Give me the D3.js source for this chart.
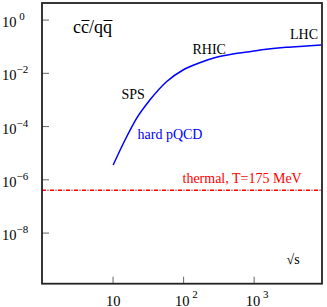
<!DOCTYPE html>
<html>
<head>
<meta charset="utf-8">
<script src="https://cdn.jsdelivr.net/npm/d3@7"></script>
<style>
  body { margin: 0; background: #fff; }
</style>
</head>
<body>
<svg id="chart"></svg>
<script>
// hard pQCD ratio vs sqrt(s) [GeV]
var sqrtS = [10.2, 14.9, 21.9, 33.7, 58.1, 99.7, 172, 296, 508, 875, 1507, 2890, 5545, 9040];
var ratio = [3.45e-6, 2.87e-5, 1.96e-4, 9.5e-4, 4.65e-3, 0.0128, 0.0240, 0.0384, 0.0511, 0.0623, 0.0766, 0.091, 0.102, 0.111];

// thermal level, T = 175 MeV
var thermal = 3.9e-7;

var xTicks = [10, 100, 1000];
var xTickExp = ["", "2", "3"];
var yTicks = [1, 1e-2, 1e-4, 1e-6, 1e-8];
var yTickExp = ["\u00a00", "\u22122", "\u22124", "\u22126", "\u22128"];

var W = 327, H = 307;
var margin = { top: 3, right: 5, bottom: 23.3, left: 42 },
    width = W - margin.left - margin.right,
    height = H - margin.top - margin.bottom;

var svg = d3.select("#chart")
    .attr("width", W)
    .attr("height", H)
    .attr("font-family", "'Liberation Serif', 'Times New Roman', Times, 'DejaVu Serif', serif");

var g = svg.append("g")
    .attr("transform", "translate(" + margin.left + "," + margin.top + ")");

var x = d3.scaleLog().domain([1, 9300]).range([0, width]);
var y = d3.scaleLog().domain([1.2e-10, 4.2]).range([height, 0]);

// inward ticks
g.append("g")
    .attr("transform", "translate(0," + height + ")")
    .call(d3.axisBottom(x).tickValues(xTicks).tickSize(-7).tickFormat(""))
    .call(function (s) { s.select(".domain").remove(); })
    .selectAll("line").attr("stroke", "#666");

g.append("g")
    .call(d3.axisLeft(y).tickValues(yTicks).tickSize(-7).tickFormat(""))
    .call(function (s) { s.select(".domain").remove(); })
    .selectAll("line").attr("stroke", "#666");

// y tick labels: 10 with superscript
var yl = svg.selectAll(".ylab").data(yTicks).enter().append("text")
    .attr("class", "ylab")
    .attr("x", 2)
    .attr("y", function (d) { return margin.top + y(d) + 7.5; })
    .attr("font-size", 14.5);
yl.append("tspan").text("10");
yl.append("tspan")
    .attr("dy", -7)
    .attr("font-size", 11)
    .text(function (d, i) { return yTickExp[i]; });

// x tick labels
var xl = svg.selectAll(".xlab").data(xTicks).enter().append("text")
    .attr("class", "xlab")
    .attr("x", function (d, i) { return margin.left + x(d) - (xTickExp[i] ? 8 : 6.5); })
    .attr("y", 305.5)
    .attr("font-size", 14.5);
xl.append("tspan").text("10");
xl.append("tspan")
    .attr("dy", -8)
    .attr("font-size", 11)
    .text(function (d, i) { return xTickExp[i] ? "\u00a0" + xTickExp[i] : ""; });

// thermal line
g.append("line")
    .attr("x1", 0)
    .attr("x2", width)
    .attr("y1", y(thermal))
    .attr("y2", y(thermal))
    .attr("stroke", "red")
    .attr("stroke-width", 1.5)
    .attr("stroke-dasharray", "4,1.5,1,1.5");

// pQCD curve
var line = d3.line()
    .x(function (d, i) { return x(sqrtS[i]); })
    .y(function (d, i) { return y(ratio[i]); })
    .curve(d3.curveMonotoneX);

g.append("path")
    .datum(sqrtS)
    .attr("fill", "none")
    .attr("stroke", "blue")
    .attr("stroke-width", 1.5)
    .attr("d", line);

// frame
g.append("rect")
    .attr("width", width)
    .attr("height", height)
    .attr("fill", "none")
    .attr("stroke", "#222")
    .attr("stroke-width", 1.8);

// title with bars over the antiquarks
var title = svg.append("text")
    .attr("x", 73)
    .attr("y", 33)
    .attr("font-size", 18)
    .text("cc/qq");
var tn = title.node();
[1, 4].forEach(function (k) {
    var e = tn.getExtentOfChar(k);
    svg.append("line")
        .attr("x1", e.x + 0.5)
        .attr("x2", e.x + e.width + 0.5)
        .attr("y1", 20.5)
        .attr("y2", 20.5)
        .attr("stroke", "#000")
        .attr("stroke-width", 1);
});

svg.append("text").attr("x", 121.5).attr("y", 98.5).attr("font-size", 14).text("SPS");
svg.append("text").attr("x", 192.5).attr("y", 53.5).attr("font-size", 14).text("RHIC");
svg.append("text").attr("x", 290).attr("y", 38.5).attr("font-size", 14).text("LHC");
svg.append("text").attr("x", 137.5).attr("y", 139).attr("font-size", 14)
    .attr("fill", "blue").text("hard pQCD");
svg.append("text").attr("x", 182.5).attr("y", 182.5).attr("font-size", 14)
    .attr("fill", "red").text("thermal, T=175 MeV");
svg.append("text").attr("x", 286.5).attr("y", 263.5).attr("font-size", 14).text("\u221As");
</script>
</body>
</html>
